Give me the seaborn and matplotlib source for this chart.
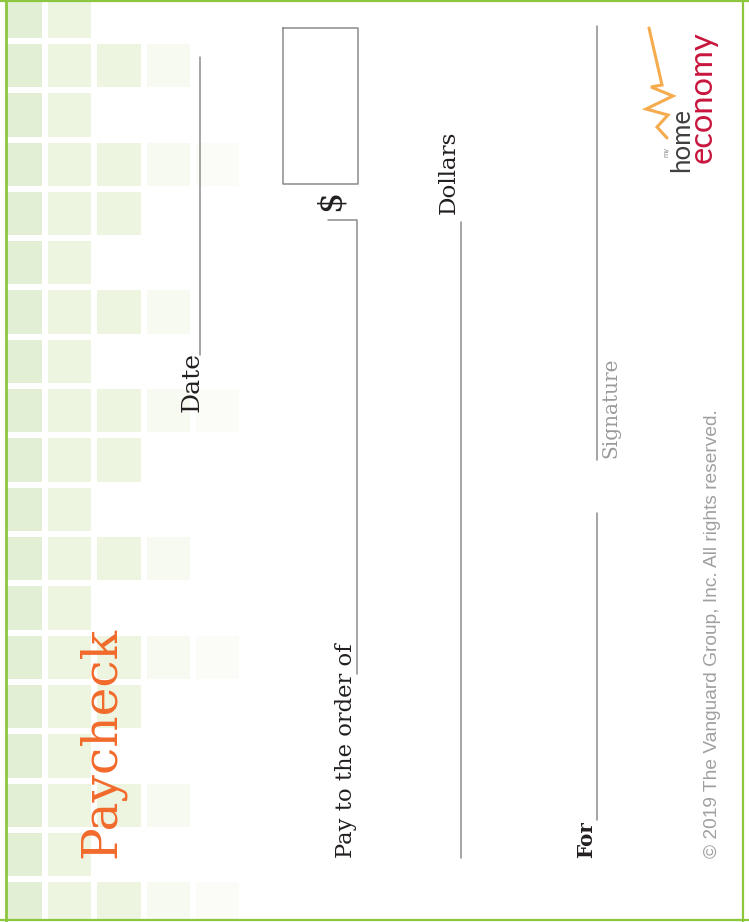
import numpy as np
import pandas as pd
import matplotlib
matplotlib.use("Agg")
import matplotlib.pyplot as plt
from matplotlib.colors import ListedColormap
from matplotlib.patches import Rectangle
import seaborn as sns

# ---------------- data ----------------
# number of shaded squares in each row of the background grid (top to bottom)
row_depth = [2, 4, 2, 5, 3, 2, 4, 2, 5, 3, 2, 4, 2, 5, 3, 2, 4, 2, 5]
# shade of each grid column (left to right)
col_shades = ["#e2efd4", "#edf5e1", "#edf5e1", "#f7faf1", "#fbfcf8"]

title_text = "Paycheck"
field_labels = ["Date", "Pay to the order of", "Dollars", "For", "Signature"]
copyright_text = "\u00a9 2019 The Vanguard Group, Inc. All rights reserved."
logo_words = ["my", "home", "economy"]

# ---------------- figure ----------------
sns.set_style("white")
plt.rcParams["font.family"] = ["DejaVu Serif", "DejaVu Sans"]

W, H = 749, 922
fig = plt.figure(figsize=(W / 100, H / 100), dpi=100)
fig.patch.set_facecolor("white")

# background grid of shaded squares (heatmap)
n_rows, n_cols = len(row_depth), len(col_shades)
grid = np.full((n_rows, n_cols), np.nan)
for r, d in enumerate(row_depth):
    for c in range(d):
        grid[r, c] = c
grid_df = pd.DataFrame(grid)

period_x, period_y = 49.3, 49.3
gx0, gy0 = -4.3, -8.3
hax = fig.add_axes([gx0 / W, 1 - (gy0 + n_rows * period_y) / H,
                    n_cols * period_x / W, n_rows * period_y / H])
sns.heatmap(grid_df, ax=hax, cmap=ListedColormap(col_shades), vmin=-0.5,
            vmax=n_cols - 0.5, cbar=False, linewidths=2.9, linecolor="white",
            xticklabels=False, yticklabels=False)
hax.axis("off")

# overlay axes in pixel coordinates
ax = fig.add_axes([0, 0, 1, 1])
ax.set_xlim(0, W)
ax.set_ylim(H, 0)
ax.axis("off")
ax.set_zorder(3)
ax.patch.set_alpha(0)

green = "#8dc63f"
line_gray = "#8c8c8c"
ink = "#231f20"

# white margin outside the frame
ax.add_patch(Rectangle((0, 0), 5.4, H, color="white", lw=0, zorder=1))
ax.add_patch(Rectangle((0, 920.5), W, 2, color="white", lw=0, zorder=1))

# border
ax.plot([6.3, 6.3], [0, H], color=green, lw=2.0, solid_capstyle="butt", zorder=2)
ax.plot([0, W], [0.6, 0.6], color=green, lw=1.6, zorder=2)
ax.plot([742.7, 742.7], [0, H], color=green, lw=1.6, zorder=2)
ax.plot([0, W], [920.2, 920.2], color=green, lw=1.6, zorder=2)

def vtext(x, y, s, size, color=ink, weight="normal", family=None, **kw):
    ax.text(x, y, s, rotation=90, rotation_mode="anchor", ha="left",
            va="baseline", fontsize=size, color=color, fontweight=weight,
            family=family or ["DejaVu Serif", "DejaVu Sans"], **kw)

# title
vtext(115, 858, title_text, 35, color="#f26a2b")

# Date
vtext(199, 412, field_labels[0], 18)
ax.plot([200, 200], [57, 355], color=line_gray, lw=1.1)

# amount box and $
ax.plot([283, 358, 358, 283, 283], [28, 28, 184, 184, 28], color=line_gray, lw=1.1)
ax.text(331, 200, "$", rotation=90, ha="center", va="center", fontsize=24,
        color=ink, family=["DejaVu Serif"])

# Pay to the order of
vtext(352, 858, field_labels[1], 16.3)
ax.plot([328, 357, 357], [220, 220, 674], color=line_gray, lw=1.1)

# Dollars
vtext(455, 214, field_labels[2], 16.6)
ax.plot([461, 461], [222, 858], color=line_gray, lw=1.1)

# For
vtext(592, 858, field_labels[3], 14.3, weight="bold")
ax.plot([597, 597], [513, 820], color=line_gray, lw=1.1)

# Signature
vtext(616, 458, field_labels[4], 14.4, color="#9a9a9a")
ax.plot([597, 597], [26, 460], color=line_gray, lw=1.1)

# copyright
vtext(717, 858, copyright_text, 13.75, color="#a0a0a0",
      family=["Liberation Sans", "DejaVu Sans"])

# logo
zig_x = [649, 662, 651, 673, 646, 668, 657, 667]
zig_y = [28, 85, 87, 96, 109, 115, 127, 138]
ax.plot(zig_x, zig_y, color="#f5a33b", lw=2.2, alpha=0.9, solid_joinstyle="miter")
vtext(668.5, 157, logo_words[0], 5.5, color="#8a8a8a", family=["Lato", "DejaVu Sans"])
vtext(689, 172, logo_words[1], 18.5, color="#3f3f3f",
      family=["Lato", "DejaVu Sans"])
vtext(712, 163, logo_words[2], 23.5, color="#c8163e",
      family=["Lato", "DejaVu Sans"])

fig.savefig("out.png", dpi=100, facecolor="white")
